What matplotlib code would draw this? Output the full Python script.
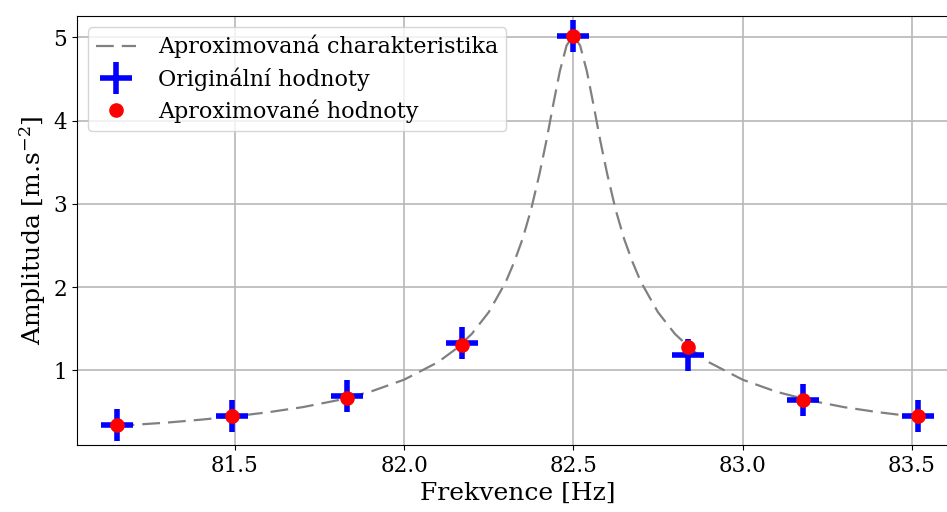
import matplotlib
matplotlib.use("Agg")
import matplotlib.pyplot as plt

plt.rcParams['font.family'] = 'DejaVu Serif'
plt.rcParams['mathtext.fontset'] = 'dejavuserif'

# measured points
freq = [81.15, 81.49, 81.83, 82.17, 82.50, 82.84, 83.18, 83.52]
amp_orig = [0.34, 0.45, 0.69, 1.33, 5.01, 1.18, 0.65, 0.45]
amp_aprox = [0.34, 0.45, 0.67, 1.30, 5.02, 1.28, 0.65, 0.45]

# approximated characteristic
curve_f = [81.15, 81.30, 81.40, 81.50, 81.60, 81.70, 81.80, 81.90, 82.00, 82.10,
           82.15, 82.20, 82.25, 82.30, 82.325, 82.35, 82.375, 82.40, 82.42, 82.44,
           82.46, 82.48, 82.50, 82.52, 82.54, 82.56, 82.58, 82.60, 82.625, 82.65,
           82.675, 82.70, 82.75, 82.80, 82.85, 82.90, 83.00, 83.10, 83.20, 83.30,
           83.40, 83.52]
curve_a = [0.334, 0.375, 0.41, 0.45, 0.50, 0.56, 0.64, 0.745, 0.89, 1.10,
           1.25, 1.44, 1.70, 2.06, 2.30, 2.58, 2.93, 3.36, 3.75, 4.18,
           4.59, 4.90, 5.02, 4.90, 4.59, 4.18, 3.75, 3.36, 2.93, 2.58,
           2.30, 2.06, 1.70, 1.44, 1.25, 1.10, 0.89, 0.745, 0.64, 0.56,
           0.50, 0.44]

fig = plt.figure(figsize=(9.47, 5.12), dpi=100)
ax = fig.add_axes([0.0813, 0.1309, 0.93, 0.8378])

ax.plot(curve_f, curve_a, color='gray', lw=1.6, dashes=(8, 3.6),
        label='Aproximovaná charakteristika', zorder=2)
ax.plot(freq, amp_orig, '+', color='blue', ms=23, mew=4,
        label='Originální hodnoty', zorder=3)
ax.plot(freq, amp_aprox, 'o', color='red', ms=9.5,
        label='Aproximované hodnoty', zorder=4)

ax.set_xlim(81.033, 83.636)
ax.set_ylim(0.106, 5.254)
ax.set_xticks([81.5, 82.0, 82.5, 83.0, 83.5])
ax.set_yticks([1, 2, 3, 4, 5])
ax.tick_params(labelsize=15.5)
ax.grid(True, lw=1.2, color='#b8b8b8')

ax.set_xlabel('Frekvence [Hz]', fontsize=18)
ax.set_ylabel('Amplituda [m.s$^{-2}$]', fontsize=18)

ax.legend(loc='upper left', fontsize=16, handlelength=1.8,
          handletextpad=1.0, borderaxespad=0.5, labelspacing=0.4,
          borderpad=0.35)

fig.savefig('out.png', dpi=100)
